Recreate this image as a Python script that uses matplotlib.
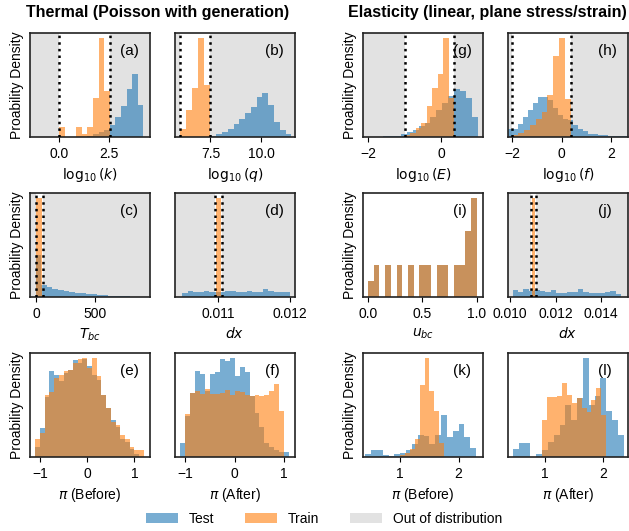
import numpy as np
import matplotlib.pyplot as plt
from matplotlib.patches import Patch

plt.rcParams['font.family'] = ['Liberation Sans', 'DejaVu Sans']
plt.rcParams['font.size'] = 10

BLUE = '#1f77b4'
ORANGE = '#ff7f0e'
OOD = '#e2e2e2'

# bar heights (arbitrary density units); *_rng = (first edge, last edge)
# ---- Thermal ----
a_test = [3, 10, 15, 20, 35, 60, 90, 140, 185, 95]
a_test_rng = (1.4, 4.2)
a_train = [30, 0, 0, 30, 10, 30, 115, 290, 135]
a_train_rng = (0.0, 2.52)
a_bounds = (0.0, 2.55)

b_test = [3, 8, 15, 25, 40, 55, 70, 90, 120, 132, 95, 45, 22, 8]
b_test_rng = (7.5, 11.5)
b_train = [25, 80, 145, 295, 155]
b_train_rng = (6.0, 7.5)
b_bounds = (6.0, 7.5)

c_test = [125, 35, 30, 25, 22, 18, 15, 13, 11, 9, 8, 6, 5, 4, 3, 2, 2]
c_test_rng = (0, 800)
c_train = [295]
c_train_rng = (0, 50)
c_bounds = (0, 60)

d_test = [12, 18, 16, 15, 17, 16, 15, 16, 17, 18, 16, 15, 17, 16, 15, 23, 17, 15, 16, 14]
d_test_rng = (0.0105, 0.012)
d_train = [295]
d_train_rng = (0.01097, 0.01104)
d_bounds = (0.01095, 0.01106)

e_test = [30, 85, 180, 255, 245, 225, 250, 258, 290, 280, 292, 270, 245, 230, 185,
          145, 110, 90, 55, 45, 25, 10]
e_test_rng = (-1.1, 1.1)
e_train = [55, 70, 185, 195, 235, 245, 255, 260, 280, 292, 295, 265, 295, 240, 185,
           145, 105, 95, 65, 55, 30, 20, 20]
e_train_rng = (-1.1, 1.2)

f_test = [40, 120, 190, 255, 245, 195, 245, 250, 290, 285, 293, 240, 265, 250, 180,
          130, 90, 40, 30, 20, 15, 15]
f_test_rng = (-1.1, 1.1)
f_train = [126, 190, 195, 185, 200, 185, 185, 190, 198, 183, 195, 192, 183, 180, 182,
           180, 183, 195, 215, 135]
f_train_rng = (-1.0, 1.0)

# ---- Elasticity ----
g_test = [2, 3, 4, 8, 15, 22, 32, 40, 60, 80, 100, 122, 142, 135, 115, 60]
g_test_rng = (-1.6, 1.02)
g_train = [5, 12, 28, 40, 90, 145, 185, 292, 115]
g_train_rng = (-1.0, 0.36)
g_bounds = (-1.0, 0.36)

h_test = [25, 25, 40, 60, 80, 100, 120, 120, 110, 85, 67, 55, 50, 35, 25, 17, 10, 10,
          7, 5, 3, 3, 2, 2]
h_test_rng = (-2.15, 2.65)
h_train = [6, 12, 22, 35, 55, 75, 125, 240, 295, 112]
h_train_rng = (-2.0, 0.37)
h_bounds = (-2.0, 0.36)

i_both = [48, 96, 0, 96, 0, 96, 0, 96, 0, 96, 96, 0, 96, 96, 0, 96, 96, 195, 293]
i_rng = (0.0, 1.0)

j_test = [20, 16, 25, 18, 20, 17, 14, 22, 11, 12, 14, 15, 23, 15, 12, 13, 11, 14, 19, 9]
j_test_rng = (0.0101, 0.0149)
j_train = [295]
j_train_rng = (0.01095, 0.0111)
j_bounds = (0.0109, 0.01115)

k_test = [8, 20, 20, 5, 3, 8, 12, 22, 38, 65, 62, 40, 65, 125, 60, 78, 98, 60, 28]
k_test_rng = (0.4, 2.3)
k_train = [5, 12, 25, 55, 216, 296, 196, 136, 41]
k_train_rng = (1.0, 1.75)

l_test = [23, 43, 43, 0, 9, 20, 45, 65, 95, 156, 111, 176, 296, 156, 181, 236, 136, 110, 66]
l_test_rng = (0.45, 2.35)
l_train = [110, 180, 180, 182, 220, 185, 160, 175, 145, 135, 170, 205, 125]
l_train_rng = (0.95, 2.05)

W, H = 629, 531
fig = plt.figure(figsize=(W / 100, H / 100), dpi=100)


def add_ax(x0, y0):
    return fig.add_axes([x0 / W, 1 - (y0 + 104) / H, 120 / W, 104 / H])


def panel(ax, test, test_rng, train, train_rng, bounds, xlim, ticks, labels,
          xlabel, tag, ylabel):
    ax.set_xlim(xlim)
    if bounds is not None:
        ax.set_facecolor(OOD)
        ax.axvspan(bounds[0], bounds[1], color='white', lw=0, zorder=0)
        for b in bounds:
            ax.axvline(b, color='black', ls=':', lw=1.8, zorder=3)
    ax.stairs(test, np.linspace(test_rng[0], test_rng[1], len(test) + 1),
              fill=True, color=BLUE, alpha=0.6, lw=0)
    ax.stairs(train, np.linspace(train_rng[0], train_rng[1], len(train) + 1),
              fill=True, color=ORANGE, alpha=0.6, lw=0)
    ax.set_xlim(xlim)
    ax.set_xticks(ticks, labels)
    ax.set_yticks([])
    ax.set_xlabel(xlabel)
    if ylabel:
        ax.set_ylabel('Proability Density')
    ax.text(0.75, 0.83, tag, transform=ax.transAxes, fontsize=11,
            ha='left', va='center')
    for s in ax.spines.values():
        s.set_linewidth(1.2)
        s.set_color('#222222')


cols = [30, 175, 363, 508]
rows = [33, 193, 353]

panel(add_ax(cols[0], rows[0]), a_test, a_test_rng, a_train, a_train_rng, a_bounds,
      (-1.47, 4.53), [0, 2.5], ['0.0', '2.5'], r'$\log_{10}(k)$', '(a)', True)
panel(add_ax(cols[1], rows[0]), b_test, b_test_rng, b_train, b_train_rng, b_bounds,
      (5.75, 11.68), [7.5, 10.0], ['7.5', '10.0'], r'$\log_{10}(q)$', '(b)', False)
panel(add_ax(cols[0], rows[1]), c_test, c_test_rng, c_train, c_train_rng, c_bounds,
      (-50, 970), [0, 500], ['0', '500'], r'$T_{bc}$', '(c)', True)
panel(add_ax(cols[1], rows[1]), d_test, d_test_rng, d_train, d_train_rng, d_bounds,
      (0.0104, 0.01207), [0.011, 0.012], ['0.011', '0.012'], r'$dx$', '(d)', False)
panel(add_ax(cols[0], rows[2]), e_test, e_test_rng, e_train, e_train_rng, None,
      (-1.21, 1.33), [-1, 0, 1], ['\u22121', '0', '1'], r'$\pi$ (Before)', '(e)', True)
panel(add_ax(cols[1], rows[2]), f_test, f_test_rng, f_train, f_train_rng, None,
      (-1.21, 1.22), [-1, 0, 1], ['\u22121', '0', '1'], r'$\pi$ (After)', '(f)', False)

panel(add_ax(cols[2], rows[0]), g_test, g_test_rng, g_train, g_train_rng, g_bounds,
      (-2.14, 1.15), [-2, 0], ['\u22122', '0'], r'$\log_{10}(E)$', '(g)', True)
panel(add_ax(cols[3], rows[0]), h_test, h_test_rng, h_train, h_train_rng, h_bounds,
      (-2.17, 2.67), [-2, 0, 2], ['\u22122', '0', '2'], r'$\log_{10}(f)$', '(h)', False)
panel(add_ax(cols[2], rows[1]), i_both, i_rng, i_both, i_rng, None,
      (-0.046, 1.058), [0, 0.5, 1.0], ['0.0', '0.5', '1.0'], r'$u_{bc}$', '(i)', True)
panel(add_ax(cols[3], rows[1]), j_test, j_test_rng, j_train, j_train_rng, j_bounds,
      (0.0099, 0.0152), [0.010, 0.012, 0.014], ['0.010', '0.012', '0.014'],
      r'$dx$', '(j)', False)
panel(add_ax(cols[2], rows[2]), k_test, k_test_rng, k_train, k_train_rng, None,
      (0.36, 2.42), [1, 2], ['1', '2'], r'$\pi$ (Before)', '(k)', True)
panel(add_ax(cols[3], rows[2]), l_test, l_test_rng, l_train, l_train_rng, None,
      (0.37, 2.42), [1, 2], ['1', '2'], r'$\pi$ (After)', '(l)', False)

fig.text(158 / W, 1 - 12 / H, 'Thermal (Poisson with generation)', ha='center',
         va='center', fontsize=11.5, fontweight='bold')
fig.text(487 / W, 1 - 12 / H, 'Elasticity (linear, plane stress/strain)', ha='center',
         va='center', fontsize=11.5, fontweight='bold')

handles = [Patch(color=BLUE, alpha=0.6, lw=0), Patch(color=ORANGE, alpha=0.6, lw=0),
           Patch(color=OOD, lw=0)]
fig.legend(handles, ['Test', 'Train', 'Out of distribution'], ncol=3, frameon=False,
           loc='center', bbox_to_anchor=(0.515, 1 - 519 / H), handlelength=2.3,
           handletextpad=0.8, columnspacing=2.2)

fig.savefig('out.png', dpi=100)
